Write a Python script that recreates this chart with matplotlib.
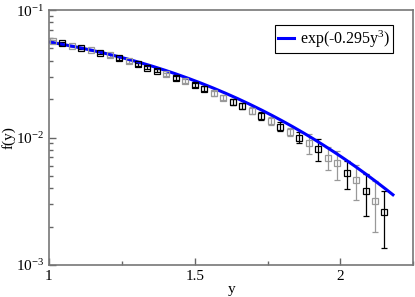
import numpy as np
import matplotlib
matplotlib.use('Agg')
from matplotlib import pyplot as plt
from matplotlib.ticker import MultipleLocator, LogLocator, NullFormatter

plt.rcParams['font.family'] = ['Liberation Serif', 'DejaVu Serif']
plt.rcParams['mathtext.fontset'] = 'custom'
plt.rcParams['mathtext.rm'] = 'Liberation Serif'
plt.rcParams['mathtext.it'] = 'Liberation Serif:italic'

# black series
x_black = [1.045, 1.110, 1.175, 1.240, 1.305, 1.338, 1.370, 1.436, 1.501, 1.533,
           1.631, 1.663, 1.728, 1.793, 1.858, 1.924, 2.021, 2.086, 2.151]
y_black = [0.05480, 0.05062, 0.04625, 0.04180, 0.03750, 0.03528, 0.03341, 0.02944,
           0.02581, 0.02414, 0.01909, 0.01776, 0.01483, 0.01216, 0.01000, 0.008084,
           0.005240, 0.003784, 0.002588]
e_black = [0.0012, 0.0011, 0.0011, 0.0010, 0.0010, 0.0010, 0.0010, 0.0010,
           0.0010, 0.0010, 0.0010, 0.0010, 0.0010, 0.0010, 0.0010, 0.0016,
           0.0013, 0.00136, 0.00124]

# gray series
x_gray = [1.013, 1.078, 1.143, 1.208, 1.273, 1.403, 1.468, 1.566, 1.598, 1.696,
          1.761, 1.826, 1.891, 1.956, 1.989, 2.054, 2.119]
y_gray = [0.05712, 0.05248, 0.04857, 0.04413, 0.03959, 0.03130, 0.02773, 0.02222,
          0.02053, 0.01623, 0.01354, 0.01110, 0.009016, 0.006949, 0.006281, 0.004645,
          0.003177]
e_gray = [0.0012, 0.0011, 0.0011, 0.0010, 0.0010, 0.0010, 0.0010, 0.0010,
          0.0010, 0.0010, 0.0009, 0.0008, 0.0016, 0.00143, 0.0016, 0.00144,
          0.00138]

# fit curve
A = 0.0755
alpha = 0.295
y_fit = np.linspace(1.0, 2.18, 200)
f_fit = A * np.exp(-alpha * y_fit ** 3)

fig = plt.figure(figsize=(4.15, 2.97), dpi=100)
ax = fig.add_axes([0.118, 0.108, 0.878, 0.858])

ax.errorbar(x_gray, y_gray, yerr=e_gray, fmt='s', ms=5, mfc='none', mec='#999999',
            mew=0.9, ecolor='#999999', elinewidth=0.9, capsize=2.5, capthick=0.9)
ax.errorbar(x_black, y_black, yerr=e_black, fmt='s', ms=5, mfc='none', mec='black',
            mew=0.9, ecolor='black', elinewidth=0.9, capsize=2.5, capthick=0.9)
ax.plot(y_fit, f_fit, color='#0000ff', lw=2.2, label=r'exp(-0.295y$^3$)')

ax.set_yscale('log')
ax.set_xlim(1, 2.25)
ax.set_ylim(1e-3, 1e-1)
ax.xaxis.set_major_locator(MultipleLocator(0.5))
ax.xaxis.set_minor_locator(MultipleLocator(0.25))
ax.yaxis.set_major_locator(LogLocator(base=10))
ax.yaxis.set_minor_locator(LogLocator(base=10, subs=np.arange(2, 10)))
ax.yaxis.set_minor_formatter(NullFormatter())
ax.set_xticks([1, 1.5, 2])
ax.set_xticklabels(['1', '1.5', '2'])
ax.set_yticks([1e-3, 1e-2, 1e-1])
ax.set_yticklabels([r'10$^{-3}$', r'10$^{-2}$', r'10$^{-1}$'])

ax.tick_params(which='both', direction='in', top=False, right=False,
               color='#666666', labelsize=11)
ax.tick_params(which='major', length=5, width=1)
ax.tick_params(which='minor', length=3, width=1)
for s in ax.spines.values():
    s.set_color('#777777')
    s.set_linewidth(1.2)

ax.set_xlabel('y', fontsize=11, labelpad=0)
ax.set_ylabel('f(y)', fontsize=11, labelpad=0)

leg = ax.legend(loc='upper right', bbox_to_anchor=(0.945, 0.941), fontsize=11.5,
                handlelength=1.0, handletextpad=0.35, borderpad=0.2,
                borderaxespad=0, fancybox=False, framealpha=1)
leg.get_frame().set_edgecolor('black')
leg.get_frame().set_linewidth(0.8)

fig.savefig('out.png', dpi=100)
